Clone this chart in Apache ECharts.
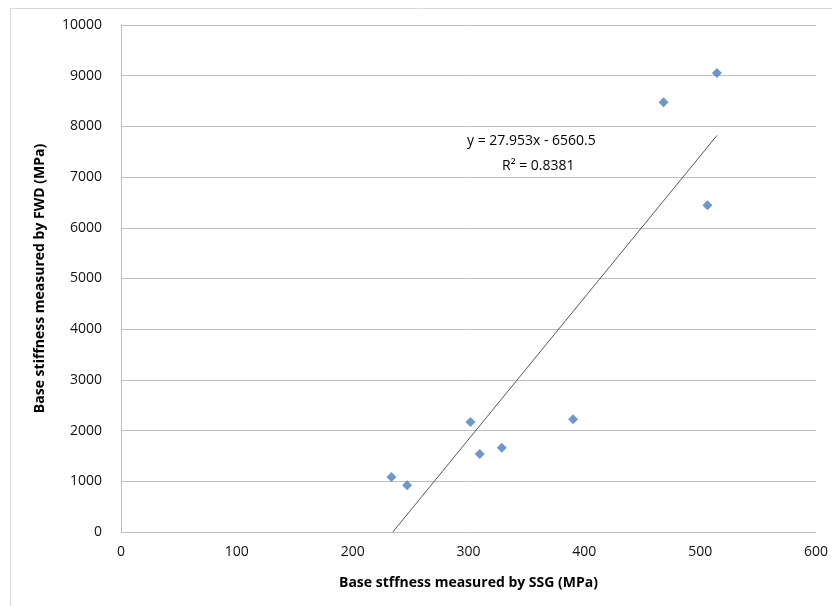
<!DOCTYPE html>
<html><head><meta charset="utf-8">
<script src="https://cdn.jsdelivr.net/npm/echarts@6/dist/echarts.min.js"></script>
<style>html,body{margin:0;padding:0;background:#fff}#c{width:832px;height:606px}</style>
</head><body><div id="c"></div>
<script>
const ssgValues = [233.5, 247, 301.7, 309.7, 328.7, 390.3, 468.4, 506.3, 514.5];
const fwdValues = [1085, 921, 2170, 1538, 1663, 2223, 8475, 6444, 9053];
const trendSlope = 27.953;
const trendIntercept = -6560.5;
const eqLine1 = 'y = 27.953x - 6560.5';
const eqLine2 = 'R² = 0.8381';
const xTicks = [0, 100, 200, 300, 400, 500, 600];
const yTicks = [0, 1000, 2000, 3000, 4000, 5000, 6000, 7000, 8000, 9000, 10000];

const points = ssgValues.map((x, i) => [x, fwdValues[i]]);
const xMin = Math.min(...ssgValues), xMax = Math.max(...ssgValues);
const xStart = Math.max(xMin, -trendIntercept / trendSlope);
const trend = [[xStart, trendSlope * xStart + trendIntercept], [xMax, trendSlope * xMax + trendIntercept]];

const font = '"Open Sans", "Noto Sans", sans-serif';
const chart = echarts.init(document.getElementById('c'));
chart.setOption({
  animation: false,
  backgroundColor: '#fff',
  graphic: [
    {type: 'rect', shape: {x: 10.5, y: 8.5, width: 830, height: 620}, style: {fill: 'none', stroke: '#d9d9d9', lineWidth: 1}},
    {type: 'text', left: 467, top: 134, style: {text: eqLine1, font: '14px ' + font, fill: '#000'}},
    {type: 'text', left: 502, top: 159, style: {text: eqLine2, font: '14px ' + font, fill: '#000'}}
  ],
  grid: {left: 121, right: 16, top: 25, bottom: 74},
  xAxis: {
    type: 'value', min: 0, max: 600, interval: 100,
    name: 'Base stffness measured by SSG (MPa)', nameLocation: 'middle', nameGap: 44,
    nameTextStyle: {fontFamily: font, fontWeight: 'bold', fontSize: 14, color: '#000'},
    axisLine: {show: false}, axisTick: {show: false},
    axisLabel: {fontFamily: font, fontSize: 14, color: '#111', margin: 13, formatter: v => String(v)},
    splitLine: {show: false}
  },
  yAxis: {
    type: 'value', min: 0, max: 10000, interval: 1000,
    name: 'Base stiffness measured by FWD (MPa)', nameLocation: 'middle', nameGap: 74,
    nameTextStyle: {fontFamily: font, fontWeight: 'bold', fontSize: 14, color: '#000'},
    axisLine: {show: true, lineStyle: {color: '#bfbfbf'}}, axisTick: {show: false},
    axisLabel: {fontFamily: font, fontSize: 14, color: '#111', margin: 19, formatter: v => String(v)},
    splitLine: {show: true, lineStyle: {color: '#bfbfbf', width: 1}}
  },
  series: [
    {type: 'line', data: trend, showSymbol: false, symbol: 'none', lineStyle: {color: '#595959', width: 1}, z: 1},
    {type: 'scatter', data: points, symbol: 'diamond', symbolSize: 10, itemStyle: {color: '#4a7ebb'}, z: 3}
  ]
});
</script></body></html>
